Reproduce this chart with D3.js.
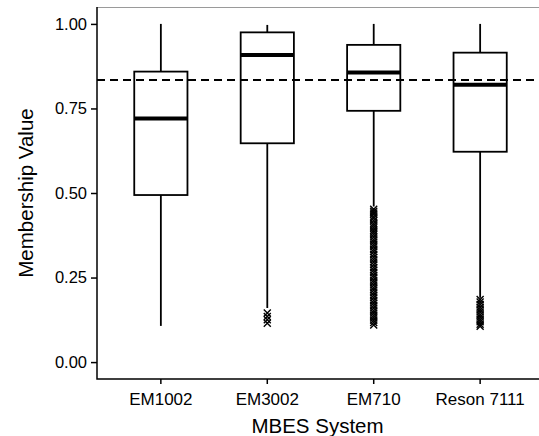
<!DOCTYPE html>
<html>
<head>
<meta charset="utf-8">
<script src="https://cdn.jsdelivr.net/npm/d3@7"></script>
<style>
  body { margin: 0; background: #fff; }
  svg { display: block; font-family: "Liberation Sans", Arial, sans-serif; }
</style>
</head>
<body>
<div id="chart"></div>
<script>
// Dati
const categories = ["EM1002", "EM3002", "EM710", "Reson 7111"];
const whiskerLow = [0.107, 0.16, 0.46, 0.19];
const q1 = [0.494, 0.647, 0.743, 0.622];
const medians = [0.720, 0.908, 0.856, 0.820];
const q3 = [0.859, 0.975, 0.938, 0.915];
const whiskerHigh = [1.0, 0.997, 1.0, 1.0];
const outliersEM3002 = [0.145, 0.135, 0.125, 0.115];
const outliersEM710 = [0.452, 0.446, 0.441, 0.437, 0.430, 0.425, 0.418, 0.410, 0.404, 0.397,
  0.390, 0.384, 0.377, 0.370, 0.362, 0.355, 0.348, 0.341, 0.333, 0.326, 0.318, 0.310,
  0.303, 0.296, 0.288, 0.280, 0.272, 0.265, 0.257, 0.250, 0.242, 0.235, 0.228, 0.220,
  0.213, 0.205, 0.198, 0.190, 0.182, 0.175, 0.167, 0.160, 0.152, 0.145, 0.138, 0.131,
  0.124, 0.117, 0.110];
const outliersReson = [0.185, 0.178, 0.170, 0.162, 0.155, 0.148, 0.140, 0.133, 0.126, 0.119, 0.112, 0.106];
const outliers = [[], outliersEM3002, outliersEM710, outliersReson];
const refLine = 0.834;
const yTicks = [0, 0.25, 0.5, 0.75, 1.0];

const width = 539, height = 436;
const mLeft = 97, mTop = 7, mBottom = 379, mRight = 544;

const svg = d3.select("#chart").append("svg")
  .attr("width", width)
  .attr("height", height);

// Scale
const x = d3.scaleBand()
  .domain(categories)
  .range([mLeft, mRight])
  .paddingOuter(0.1)
  .paddingInner(0);
const y = d3.scaleLinear()
  .domain([-0.05, 1.05])
  .range([mBottom, mTop]);

const boxW = x.bandwidth() * 0.5;
const cx = d => x(d) + x.bandwidth() / 2;

// Bordo superiore grigio chiaro
svg.append("line")
  .attr("x1", mLeft).attr("x2", width)
  .attr("y1", mTop + 0.5).attr("y2", mTop + 0.5)
  .attr("stroke", "#9a9a9a")
  .attr("stroke-width", 1);

// Box plot
const g = svg.append("g")
  .selectAll("g")
  .data(categories)
  .enter().append("g");

g.append("line")
  .attr("x1", cx).attr("x2", cx)
  .attr("y1", (d, i) => y(whiskerHigh[i]))
  .attr("y2", (d, i) => y(q3[i]))
  .attr("stroke", "#000").attr("stroke-width", 1.8);

g.append("line")
  .attr("x1", cx).attr("x2", cx)
  .attr("y1", (d, i) => y(q1[i]))
  .attr("y2", (d, i) => y(whiskerLow[i]))
  .attr("stroke", "#000").attr("stroke-width", 1.8);

g.append("rect")
  .attr("x", d => cx(d) - boxW / 2)
  .attr("y", (d, i) => y(q3[i]))
  .attr("width", boxW)
  .attr("height", (d, i) => y(q1[i]) - y(q3[i]))
  .attr("fill", "#fff")
  .attr("stroke", "#000")
  .attr("stroke-width", 1.8);

g.append("line")
  .attr("x1", d => cx(d) - boxW / 2)
  .attr("x2", d => cx(d) + boxW / 2)
  .attr("y1", (d, i) => y(medians[i]))
  .attr("y2", (d, i) => y(medians[i]))
  .attr("stroke", "#000").attr("stroke-width", 4);

// Outlier (croci)
const s = 3.5;
g.each(function(d, i) {
  d3.select(this).selectAll("path.out")
    .data(outliers[i])
    .enter().append("path")
    .attr("class", "out")
    .attr("d", v => {
      const px = cx(d), py = y(v);
      return `M${px - s},${py - s}L${px + s},${py + s}M${px - s},${py + s}L${px + s},${py - s}`;
    })
    .attr("stroke", "#000")
    .attr("stroke-width", 1.4)
    .attr("fill", "none");
});

// Linea di riferimento tratteggiata
svg.append("line")
  .attr("x1", mLeft).attr("x2", width)
  .attr("y1", y(refLine)).attr("y2", y(refLine))
  .attr("stroke", "#000")
  .attr("stroke-width", 2)
  .attr("stroke-dasharray", "8,5");

// Assi
const yAxis = svg.append("g")
  .attr("transform", `translate(${mLeft},0)`)
  .call(d3.axisLeft(y).tickValues(yTicks).tickFormat(d3.format(".2f")).tickSize(6).tickPadding(4))
  .call(a => a.select(".domain").remove());
yAxis.selectAll("line").attr("stroke", "#000").attr("stroke-width", 1.5);
yAxis.selectAll("text").attr("font-size", 16.5).attr("fill", "#000")
  .attr("font-family", "Liberation Sans, Arial, sans-serif");

const xAxis = svg.append("g")
  .attr("transform", `translate(0,${mBottom})`)
  .call(d3.axisBottom(x).tickSize(5).tickPadding(9))
  .call(a => a.select(".domain").remove());
xAxis.selectAll("line").attr("stroke", "#000").attr("stroke-width", 1.5);
xAxis.selectAll("text").attr("font-size", 17).attr("fill", "#000")
  .attr("font-family", "Liberation Sans, Arial, sans-serif");

svg.append("path")
  .attr("d", `M${mLeft},${mTop}V${mBottom}H${width}`)
  .attr("fill", "none")
  .attr("stroke", "#000")
  .attr("stroke-width", 1.5);

// Titoli degli assi
svg.append("text")
  .attr("x", (mLeft + mRight) / 2 - 3)
  .attr("y", 433)
  .attr("text-anchor", "middle")
  .attr("font-size", 20.5)
  .text("MBES System");

svg.append("text")
  .attr("transform", `translate(33,${(mTop + mBottom) / 2}) rotate(-90)`)
  .attr("text-anchor", "middle")
  .attr("font-size", 20.5)
  .text("Membership Value");
</script>
</body>
</html>
